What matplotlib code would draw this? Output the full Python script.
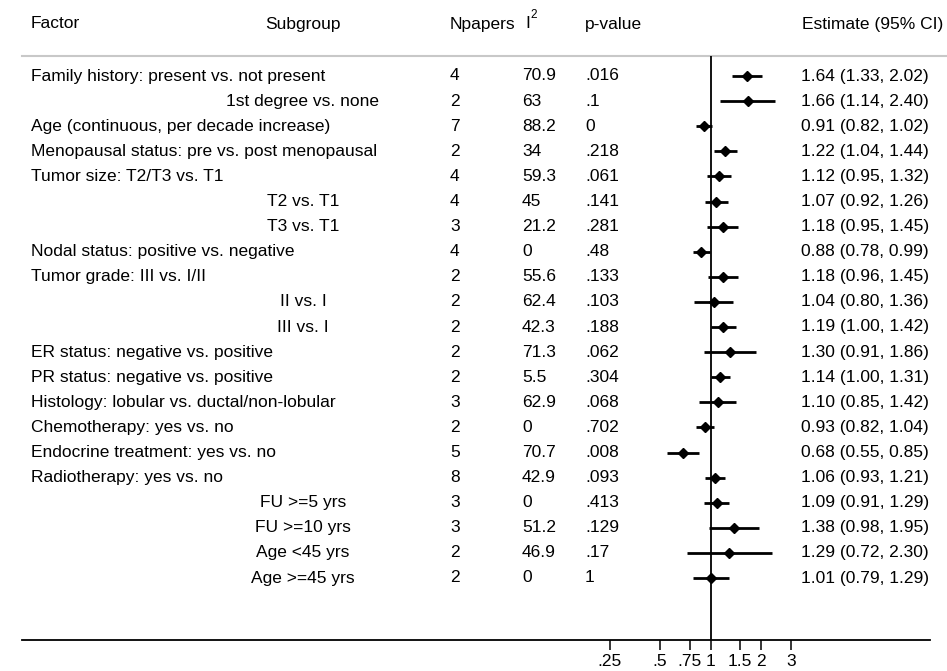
import numpy as np
import matplotlib.pyplot as plt

plt.rcParams['font.family'] = ['Liberation Sans', 'DejaVu Sans']

# ---------------- data ----------------
factor = ["Family history: present vs. not present", "",
          "Age (continuous, per decade increase)",
          "Menopausal status: pre vs. post menopausal",
          "Tumor size: T2/T3 vs. T1", "", "",
          "Nodal status: positive vs. negative",
          "Tumor grade: III vs. I/II", "", "",
          "ER status: negative vs. positive",
          "PR status: negative vs. positive",
          "Histology: lobular vs. ductal/non-lobular",
          "Chemotherapy: yes vs. no",
          "Endocrine treatment: yes vs. no",
          "Radiotherapy: yes vs. no", "", "", "", ""]
subgroup = ["", "1st degree vs. none", "", "", "", "T2 vs. T1", "T3 vs. T1",
            "", "", "II vs. I", "III vs. I", "", "", "", "", "", "",
            "FU >=5 yrs", "FU >=10 yrs", "Age <45 yrs", "Age >=45 yrs"]
npapers = [4, 2, 7, 2, 4, 4, 3, 4, 2, 2, 2, 2, 2, 3, 2, 5, 8, 3, 3, 2, 2]
i2 = ["70.9", "63", "88.2", "34", "59.3", "45", "21.2", "0", "55.6", "62.4",
      "42.3", "71.3", "5.5", "62.9", "0", "70.7", "42.9", "0", "51.2", "46.9", "0"]
pval = [".016", ".1", "0", ".218", ".061", ".141", ".281", ".48", ".133", ".103",
        ".188", ".062", ".304", ".068", ".702", ".008", ".093", ".413", ".129",
        ".17", "1"]
est = [1.64, 1.66, 0.91, 1.22, 1.12, 1.07, 1.18, 0.88, 1.18, 1.04, 1.19,
       1.30, 1.14, 1.10, 0.93, 0.68, 1.06, 1.09, 1.38, 1.29, 1.01]
lo = [1.33, 1.14, 0.82, 1.04, 0.95, 0.92, 0.95, 0.78, 0.96, 0.80, 1.00,
      0.91, 1.00, 0.85, 0.82, 0.55, 0.93, 0.91, 0.98, 0.72, 0.79]
hi = [2.02, 2.40, 1.02, 1.44, 1.32, 1.26, 1.45, 0.99, 1.45, 1.36, 1.42,
      1.86, 1.31, 1.42, 1.04, 0.85, 1.21, 1.29, 1.95, 2.30, 1.29]
ticks = [0.25, 0.5, 0.75, 1, 1.5, 2, 3]
tick_labels = [".25", ".5", ".75", "1", "1.5", "2", "3"]

W, H = 947, 671
fs = 12.5
row0, step = 76, 25.1
nrow = len(est)

fig = plt.figure(figsize=(W / 100, H / 100), dpi=100)

# text layer in pixel coordinates
ax_t = fig.add_axes([0, 0, 1, 1])
ax_t.set_xlim(0, W)
ax_t.set_ylim(H, 0)
ax_t.axis('off')

# forest layer, log scale, 1 at x=710.7 px, 73 px per ln unit
x_left, x_right, y_top, y_bot = 22, 930, 56, 640
ax = fig.add_axes([x_left / W, 1 - y_bot / H, (x_right - x_left) / W, (y_bot - y_top) / H])
ax.set_xscale('log')
ax.set_xlim(np.exp((x_left - 710.7) / 73), np.exp((x_right - 710.7) / 73))
ax.set_ylim((y_bot - row0) / step, (y_top - row0) / step)
ax.patch.set_alpha(0)
for s in ['top', 'left', 'right']:
    ax.spines[s].set_visible(False)
ax.spines['bottom'].set_linewidth(1.3)
ax.set_yticks([])
ax.set_xticks(ticks)
ax.set_xticklabels(tick_labels)
ax.minorticks_off()
ax.tick_params(axis='x', length=7, width=1.1, labelsize=fs, pad=3)
ax.axvline(1, color='black', lw=1.3)

y = np.arange(nrow)
ax.hlines(y, lo, hi, color='black', lw=2)
ax.plot(est, y, 'D', color='black', ms=5.5)

# header
hy = 24
ax_t.text(31, hy, "Factor", fontsize=fs, va='center')
ax_t.text(303, hy, "Subgroup", fontsize=fs, va='center', ha='center')
ax_t.text(450, hy, "Npapers", fontsize=fs, va='center')
ax_t.text(525, hy, "I", fontsize=fs, va='center')
ax_t.text(530, hy - 9, "2", fontsize=8.5, va='center')
ax_t.text(585, hy, "p-value", fontsize=fs, va='center')
ax_t.text(943, hy, "Estimate (95% CI)", fontsize=fs, va='center', ha='right')
ax_t.plot([22, W], [56, 56], color='#c8c8c8', lw=1.5)

for i in range(nrow):
    yy = row0 + i * step
    if factor[i]:
        ax_t.text(31, yy, factor[i], fontsize=fs, va='center')
    if subgroup[i]:
        ax_t.text(303, yy, subgroup[i], fontsize=fs, va='center', ha='center')
    ax_t.text(450, yy, str(npapers[i]), fontsize=fs, va='center')
    ax_t.text(522, yy, i2[i], fontsize=fs, va='center')
    ax_t.text(585, yy, pval[i], fontsize=fs, va='center')
    ax_t.text(929, yy, f"{est[i]:.2f} ({lo[i]:.2f}, {hi[i]:.2f})",
              fontsize=fs, va='center', ha='right')

fig.savefig('out.png', dpi=100)
